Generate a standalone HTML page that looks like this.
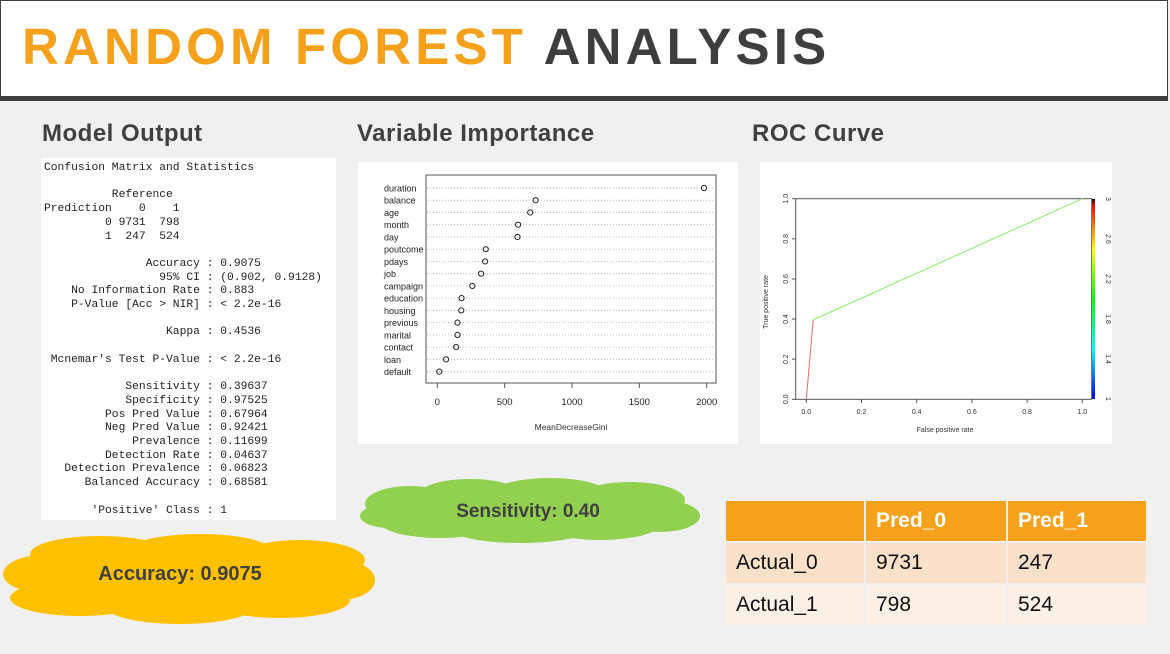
<!DOCTYPE html>
<html><head><meta charset="utf-8">
<style>
body{margin:0;width:1170px;height:654px;background:#f0f0f0;position:relative;overflow:hidden;font-family:"Liberation Sans",sans-serif}
.abs{position:absolute}
#titlebar{left:0;top:0;width:1166px;height:95px;background:#fff;border:1px solid #404040;border-bottom:5px solid #404040}
#title{left:22px;top:17px;font-size:51px;font-weight:bold;letter-spacing:4.2px;white-space:nowrap}
.h2{font-size:24px;font-weight:bold;color:#404040;top:120px;letter-spacing:0.5px}
pre{margin:0;font-family:"Liberation Mono",monospace;font-size:11.3px;line-height:13.62px;color:#222}
table{border-collapse:separate;border-spacing:2px;font-size:21px}
td{padding:0 10px;height:40px}
</style></head><body>
<div id="titlebar" class="abs"></div>
<div id="title" class="abs"><span style="color:#f5a11c">RANDOM FOREST</span> <span style="color:#3e3e3e">ANALYSIS</span></div>
<div class="abs h2" style="left:42px">Model Output</div>
<div class="abs h2" style="left:357px">Variable Importance</div>
<div class="abs h2" style="left:752px">ROC Curve</div>

<div class="abs" style="left:41px;top:158px;width:295px;height:362px;background:#fff">
<pre class="abs" style="left:3px;top:4px;line-height:13.7px">Confusion Matrix and Statistics

          Reference
Prediction    0    1
         0 9731  798
         1  247  524

               Accuracy : 0.9075
                 95% CI : (0.902, 0.9128)
    No Information Rate : 0.883
    P-Value [Acc > NIR] : &lt; 2.2e-16

                  Kappa : 0.4536

 Mcnemar's Test P-Value : &lt; 2.2e-16

            Sensitivity : 0.39637
            Specificity : 0.97525
         Pos Pred Value : 0.67964
         Neg Pred Value : 0.92421
             Prevalence : 0.11699
         Detection Rate : 0.04637
   Detection Prevalence : 0.06823
      Balanced Accuracy : 0.68581

       'Positive' Class : 1</pre></div>

<svg class="abs" style="left:358px;top:162px" width="380" height="282" id="vi"></svg>
<svg class="abs" style="left:760px;top:162px" width="352" height="282" id="roc"></svg>

<svg class="abs" style="left:350px;top:478px" width="360" height="66">
<g fill="#92d050">
<ellipse cx="60" cy="26" rx="45" ry="18"/><ellipse cx="120" cy="16" rx="50" ry="15"/><ellipse cx="200" cy="14" rx="55" ry="14"/><ellipse cx="280" cy="22" rx="55" ry="18"/><ellipse cx="310" cy="38" rx="40" ry="16"/><ellipse cx="250" cy="46" rx="60" ry="16"/><ellipse cx="170" cy="50" rx="70" ry="15"/><ellipse cx="90" cy="44" rx="60" ry="16"/><ellipse cx="40" cy="38" rx="30" ry="12"/><ellipse cx="178" cy="32" rx="150" ry="20"/></g>
<text x="178" y="39" text-anchor="middle" font-size="19" font-weight="bold" fill="#404040">Sensitivity: 0.40</text></svg>

<svg class="abs" style="left:0px;top:534px" width="380" height="92">
<g fill="#ffc000">
<ellipse cx="50" cy="40" rx="47" ry="20"/><ellipse cx="100" cy="20" rx="70" ry="18"/><ellipse cx="200" cy="16" rx="70" ry="16"/><ellipse cx="300" cy="26" rx="65" ry="20"/><ellipse cx="340" cy="46" rx="35" ry="20"/><ellipse cx="280" cy="66" rx="70" ry="18"/><ellipse cx="180" cy="72" rx="75" ry="18"/><ellipse cx="80" cy="64" rx="70" ry="18"/><ellipse cx="185" cy="44" rx="170" ry="28"/></g>
<text x="180" y="46" text-anchor="middle" font-size="20" font-weight="bold" fill="#404040">Accuracy: 0.9075</text></svg>

<table class="abs" style="left:724px;top:499px;width:424px">
<tr style="background:#f5a11c;color:#fff;font-weight:bold"><td style="width:118px"></td><td style="width:120px">Pred_0</td><td>Pred_1</td></tr>
<tr style="background:#fbe0ca;color:#111"><td>Actual_0</td><td>9731</td><td>247</td></tr>
<tr style="background:#fdf0e6;color:#111"><td>Actual_1</td><td>798</td><td>524</td></tr>
</table>

<script>
const NS="http://www.w3.org/2000/svg";
function mk(p,t,a,txt){const e=document.createElementNS(NS,t);for(const k in a)e.setAttribute(k,a[k]);if(txt!==undefined)e.textContent=txt;p.appendChild(e);return e;}
// Variable importance data
const viVars=["duration","balance","age","month","day","poutcome","pdays","job","campaign","education","housing","previous","marital","contact","loan","default"];
const viValues=[1980,730,690,600,595,360,355,325,260,180,178,150,150,140,65,15];
const viTicks=[0,500,1000,1500,2000];
(function(){
 const s=document.getElementById('vi');
 mk(s,'rect',{x:0,y:0,width:380,height:282,fill:'#fff'});
 const x=v=>437.3-358+v*(269.4/2000), y=i=>188-162+i*12.24;
 mk(s,'rect',{x:68,y:13,width:290,height:208,fill:'none',stroke:'#555','stroke-width':1});
 viVars.forEach((n,i)=>{
  const g=mk(s,'line',{x1:69,x2:357,y1:y(i),y2:y(i),stroke:'#bbb','stroke-dasharray':'1,2'});
  
  const t=mk(s,'text',{x:26,y:y(i)+3.5,'font-size':9,fill:'#222'},n);
  
  const c=mk(s,'circle',{cx:x(viValues[i]),cy:y(i),r:2.6,fill:'none',stroke:'#222','stroke-width':1});
  
 });
 viTicks.forEach(v=>{
  mk(s,'line',{x1:x(v),x2:x(v),y1:221,y2:226,stroke:'#555'});
  const t=mk(s,'text',{x:x(v),y:243,'font-size':9.5,'text-anchor':'middle',fill:'#222'},v);
  
 });
 const xt=mk(s,'text',{x:213,y:268,'font-size':8.5,'text-anchor':'middle',fill:'#333'},'MeanDecreaseGini');
 
})();
// ROC data
const rocFpr=[0,0.025,1];
const rocTpr=[0,0.396,1];
const rocColors=["#ff6666","#88ee66"];
const rocTicks=[0,0.2,0.4,0.6,0.8,1.0];
const cbTicks=[1,1.4,1.8,2.2,2.6,3];
(function(){
 const s=document.getElementById('roc');
 mk(s,'rect',{x:0,y:0,width:352,height:282,fill:'#fff'});
 const X=v=>46.3+v*276, Y=v=>237.3-v*200.6;
 mk(s,'rect',{x:35.7,y:36.7,width:296,height:200.6,fill:'none',stroke:'#555'});
 for(let i=0;i<rocFpr.length-1;i++){
  const l=mk(s,'line',{x1:X(rocFpr[i]),y1:Y(rocTpr[i]),x2:X(rocFpr[i+1]),y2:Y(rocTpr[i+1]),stroke:rocColors[i],'stroke-width':1});
  
 }
 rocTicks.forEach(v=>{
  mk(s,'line',{x1:X(v),x2:X(v),y1:237,y2:241,stroke:'#555'});
  const t=mk(s,'text',{x:X(v),y:252,'font-size':7,'text-anchor':'middle',fill:'#333'},v.toFixed(1));
  
  mk(s,'line',{x1:32,x2:35.7,y1:Y(v),y2:Y(v),stroke:'#555'});
  const u=mk(s,'text',{x:0,y:0,'font-size':7,'text-anchor':'middle',fill:'#333',transform:`translate(28,${Y(v)}) rotate(-90)`},v.toFixed(1));
  
 });
 const d=mk(s,'defs',{});const g=mk(d,'linearGradient',{id:'cb',x1:0,y1:1,x2:0,y2:0});
 [['0','#0000ff'],['0.25','#00ffff'],['0.5','#00ff00'],['0.75','#ffff00'],['0.97','#ff0000'],['1','#000']].forEach(a=>mk(g,'stop',{offset:a[0],'stop-color':a[1]}));
 const cb=mk(s,'rect',{x:332,y:37,width:3,height:200,fill:'url(#cb)'});
 
 cbTicks.forEach(v=>{
  const yy=237-(v-1)/2*200;
  const t=mk(s,'text',{x:0,y:0,'font-size':7,'text-anchor':'middle',fill:'#333',transform:`translate(346,${yy}) rotate(90)`},v);
  
 });
 const xt=mk(s,'text',{x:185,y:270,'font-size':7,'text-anchor':'middle',fill:'#333'},'False positive rate');
 
 const yt=mk(s,'text',{x:0,y:0,'font-size':7,'text-anchor':'middle',fill:'#333',transform:'translate(8,140) rotate(-90)'},'True positive rate');
 
})();
</script>
</body></html>
